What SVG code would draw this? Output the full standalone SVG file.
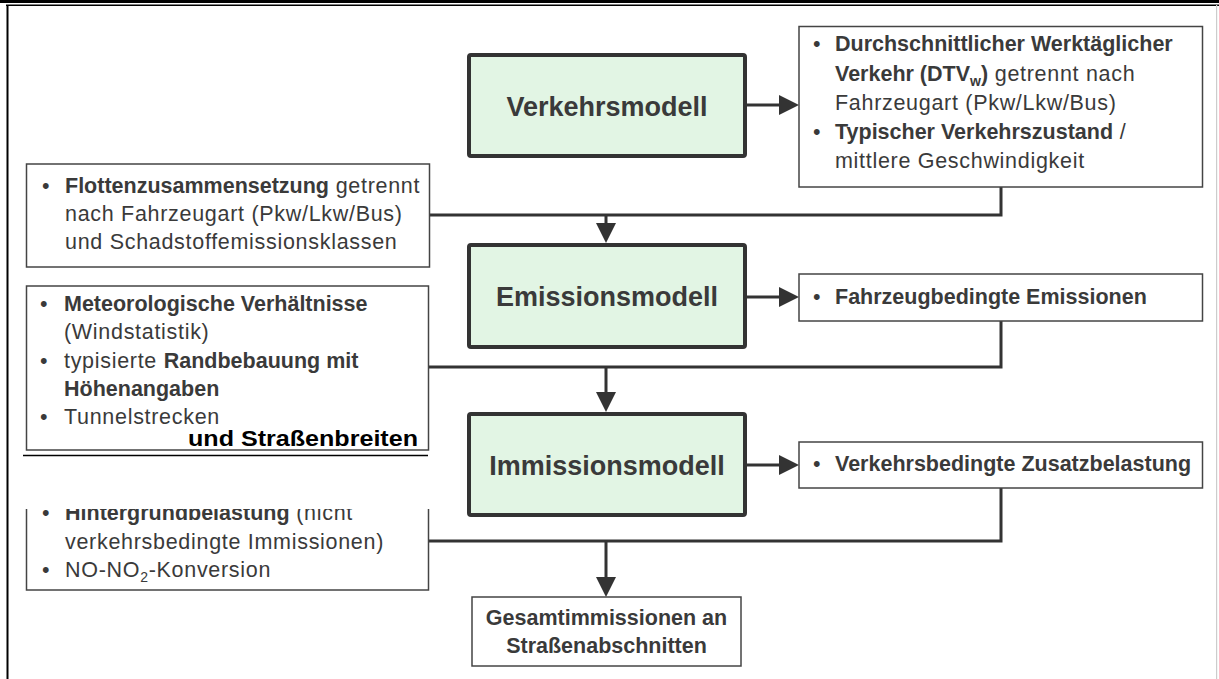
<svg xmlns="http://www.w3.org/2000/svg" width="1219" height="679" viewBox="0 0 1219 679">
<style>
.t{font-family:"Liberation Sans",Arial,sans-serif;font-size:21.5px;fill:#3a3a3a}
.b{font-weight:bold}
.r{letter-spacing:0.7px}
.h{font-family:"Liberation Sans",Arial,sans-serif;font-size:27px;font-weight:bold;fill:#3a3a3a}
.g{fill:#e2f5e4;stroke:#333;stroke-width:4}
.w{fill:#fff;stroke:#444;stroke-width:1.5}
.c{fill:none;stroke:#333;stroke-width:3}
.a{marker-end:url(#ah)}
</style>
<defs>
<marker id="ah" markerUnits="userSpaceOnUse" markerWidth="20" markerHeight="20" refX="0" refY="10" orient="auto" viewBox="0 0 20 20">
<path d="M0,0 L20,10 L0,20 Z" fill="#333"/>
</marker>
<clipPath id="clipH"><rect x="0" y="509" width="440" height="100"/></clipPath>
</defs>
<rect width="1219" height="679" fill="#fff"/>
<g id="frame">
<rect x="0" y="0" width="1219" height="3" fill="#000"/>
<rect x="6" y="4.5" width="1213" height="1.5" fill="#000"/>
<rect x="6.5" y="5" width="2" height="674" fill="#000"/>
<rect x="1216" y="5" width="1.2" height="674" fill="#ccc"/>
</g>
<g id="connectors">
<path class="c" d="M1001,187 V215 H430"/>
<path class="c a" d="M606,215 V223"/>
<path class="c" d="M1001,321 V367 H429"/>
<path class="c a" d="M606,367 V392"/>
<path class="c" d="M1001,488 V541 H429"/>
<path class="c a" d="M606,541 V577"/>
<path class="c a" d="M747,105 H779"/>
<path class="c a" d="M747,297 H779"/>
<path class="c a" d="M747,465 H779"/>
</g>
<g id="verkehrsmodell">
<rect class="g" x="469" y="55" width="276" height="101" rx="2"/>
<text class="h" x="607" y="116" text-anchor="middle">Verkehrsmodell</text>
</g>
<g id="emissionsmodell">
<rect class="g" x="469" y="245" width="276" height="102" rx="2"/>
<text class="h" x="607" y="306" text-anchor="middle">Emissionsmodell</text>
</g>
<g id="immissionsmodell">
<rect class="g" x="469" y="414" width="276" height="101" rx="2"/>
<text class="h" x="607" y="475" text-anchor="middle">Immissionsmodell</text>
</g>
<g id="dtv">
<rect class="w" x="799" y="26.5" width="403.5" height="160.5"/>
<text class="t" x="813" y="51">•</text>
<text class="t b" x="835" y="51">Durchschnittlicher Werktäglicher</text>
<text class="t" x="835" y="81"><tspan class="b">Verkehr (DTV</tspan><tspan class="b" font-size="14" dy="5">w</tspan><tspan class="b" dy="-5">)</tspan><tspan class="r"> getrennt nach</tspan></text>
<text class="t r" x="835" y="110">Fahrzeugart (Pkw/Lkw/Bus)</text>
<text class="t" x="813" y="139">•</text>
<text class="t" x="835" y="139"><tspan class="b">Typischer Verkehrszustand</tspan><tspan class="r"> /</tspan></text>
<text class="t r" x="835" y="168">mittlere Geschwindigkeit</text>
</g>
<g id="flotte">
<rect class="w" x="26.5" y="164" width="403" height="103"/>
<text class="t" x="42" y="193">•</text>
<text class="t" x="65" y="193"><tspan class="b">Flottenzusammensetzung</tspan><tspan class="r"> getrennt</tspan></text>
<text class="t r" x="65" y="221">nach Fahrzeugart (Pkw/Lkw/Bus)</text>
<text class="t r" x="65" y="249">und Schadstoffemissionsklassen</text>
</g>
<g id="meteo">
<rect class="w" x="26.5" y="286" width="402" height="164"/>
<text class="t" x="40" y="311">•</text>
<text class="t b" x="64" y="311">Meteorologische Verhältnisse</text>
<text class="t r" x="64" y="339">(Windstatistik)</text>
<text class="t" x="40" y="368">•</text>
<text class="t" x="64" y="368"><tspan class="r">typisierte </tspan><tspan class="b">Randbebauung mit</tspan></text>
<text class="t b" x="64" y="396">Höhenangaben</text>
<text class="t" x="40" y="424">•</text>
<text class="t r" x="64" y="424">Tunnelstrecken</text>
<text class="t b" x="188" y="446" fill="#000" style="fill:#000" textLength="230" lengthAdjust="spacingAndGlyphs">und Straßenbreiten</text>
<line x1="23" y1="455.5" x2="428" y2="455.5" stroke="#000" stroke-width="1.5"/>
</g>
<g id="hintergrund" clip-path="url(#clipH)">
<rect class="w" x="26.5" y="470" width="402" height="120"/>
<text class="t" x="42" y="520">•</text>
<text class="t" x="65" y="520"><tspan class="b">Hintergrundbelastung</tspan><tspan class="r"> (nicht</tspan></text>
<text class="t r" x="65" y="549">verkehrsbedingte Immissionen)</text>
<text class="t" x="42" y="577">•</text>
<text class="t r" x="65" y="577">NO-NO<tspan font-size="14" dy="5">2</tspan><tspan dy="-5">-Konversion</tspan></text>
</g>
<g id="fahrzeug">
<rect class="w" x="799" y="274" width="403.5" height="47"/>
<text class="t" x="813" y="304">•</text>
<text class="t b" x="835" y="304">Fahrzeugbedingte Emissionen</text>
</g>
<g id="zusatz">
<rect class="w" x="799" y="442" width="403.5" height="46"/>
<text class="t" x="813" y="471">•</text>
<text class="t b" x="835" y="471">Verkehrsbedingte Zusatzbelastung</text>
</g>
<g id="gesamt">
<rect class="w" x="472" y="597" width="269" height="69"/>
<text class="t b" x="606.5" y="625" text-anchor="middle">Gesamtimmissionen an</text>
<text class="t b" x="606.5" y="653" text-anchor="middle">Straßenabschnitten</text>
</g>
</svg>
